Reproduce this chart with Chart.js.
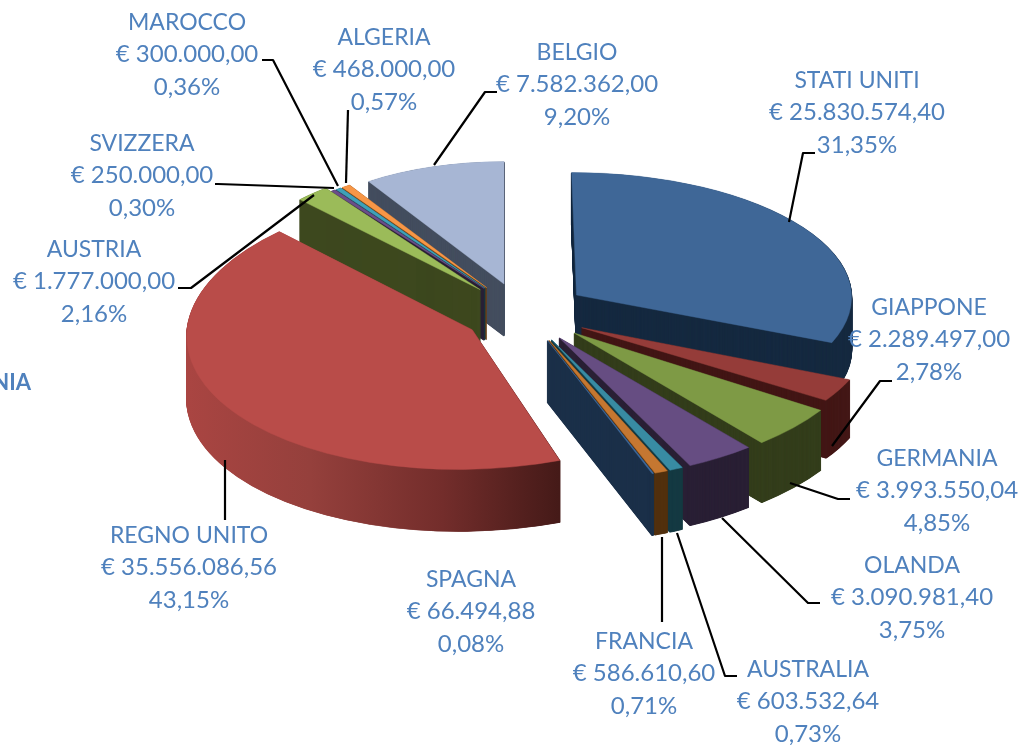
<!DOCTYPE html>
<html><head><meta charset="utf-8">
<style>html,body{margin:0;padding:0;background:#fff}#w{width:1021px;height:745px;position:relative}</style>
<script src="https://cdn.jsdelivr.net/npm/chart.js@4/dist/chart.umd.min.js"></script>
</head><body><div id="w"><canvas id="c" width="1021" height="745"></canvas></div>
<script>
const categories = ['STATI UNITI','GIAPPONE','GERMANIA','OLANDA','AUSTRALIA','FRANCIA','SPAGNA','REGNO UNITO','AUSTRIA','SVIZZERA','MAROCCO','ALGERIA','BELGIO'];
const amounts = [25830574.40,2289497.00,3993550.04,3090981.40,603532.64,586610.60,66494.88,35556086.56,1777000.00,250000.00,300000.00,468000.00,7582362.00];
const percents = ['31,35%','2,78%','4,85%','3,75%','0,73%','0,71%','0,08%','43,15%','2,16%','0,30%','0,36%','0,57%','9,20%'];
const topColors = ['#3F6797','#953C39','#7E9A45','#664D82','#388BA3','#C57731','#406A9E','#B94C49','#9BBB59','#6A4E89','#3FA0B8','#F79646','#A7B6D4'];
const sideColors = ['#162A40','#431716','#343E1C','#2A2035','#153A43','#52310F','#1B3049','#8A3532','#3F4A20','#2A2035','#153A43','#6B3F14','#444E5F'];
const clippedTitle = 'NIA';

const labelSpots = [[857,80],[929,307],[937,458],[912,565],[808,669],[644,641],[471,579],[189,535],[94,249],[142,143],[187,22],[384,37],[577,52]];
const leaders = [
 [[789,222],[803,153],[815,153]],
 [[832,446],[880,381],[892,381]],
 [[790,483],[838,499],[850,499]],
 [[722,518],[808,603],[820,603]],
 [[677,533],[725,676],[737,676]],
 [[662,537],[662,622]],
 [],
 [[225,460],[225,520]],
 [[314,195],[191,288],[178,288]],
 [[334,188],[218,184],[215,184]],
 [[338,186],[273,60],[262,60]],
 [[346,183],[348,110]],
 [[434,165],[485,92],[497,92]]
];
const sliceScaleX = [.965,1.02,1.03,1.04,1.04,1.04,1.04,1.0,.89,.88,.88,.88,.87];
const sliceScaleY = [.43,.47,.5,.5,.5,.5,.5,.49,.45,.43,.43,.43,.43];
const sliceDepth  = [52,58,60,60,62,62,62,62,52,52,52,52,52];
const sliceNudgeX = [-1,1,2,0,0,0,0,0,-3,-3,-3,-3,-3];
const sliceNudgeY = [-5,0,0,0,0,0,0,0,-5,-5,-5,-5,-5];
const sliceShear  = [.04,0,0,0,0,0,0,-.1,0,0,0,0,0];
const CX = 525, CY = 315;

function money(v){
  const [a,b] = v.toFixed(2).split('.');
  return '€ ' + a.replace(/\B(?=(\d{3})+$)/g,'.') + ',' + b;
}

const pie3d = {
  id:'pie3d',
  beforeDatasetsDraw(chart){
    const ctx = chart.ctx, meta = chart.getDatasetMeta(0);
    const order = meta.data.map((el,i)=>i).sort((a,b)=>{
      const m = e => Math.sin((e.startAngle+e.endAngle)/2);
      return m(meta.data[a]) - m(meta.data[b]);
    });
    order.forEach(i=>{
      const el = meta.data[i], sx = sliceScaleX[i], sy = sliceScaleY[i];
      const mid = (el.startAngle+el.endAngle)/2, off = el.options.offset/4;
      const place = dz => {
        ctx.translate(CX + sliceNudgeX[i] + Math.cos(mid)*off, CY + sliceNudgeY[i] + Math.sin(mid)*off*sliceScaleY[0] + dz);
        ctx.transform(1,0,sliceShear[i],1,0,0);
        ctx.scale(sx, sy);
        ctx.translate(-el.x, -el.y);
      };
      const face = (col,bw) => { const p = Object.create(el); p.options = Object.assign({}, el.options, {backgroundColor:col, borderColor:col, borderWidth:bw, offset:0}); return p; };
      let side = sideColors[i];
      if (categories[i] === 'REGNO UNITO') {
        const g = ctx.createLinearGradient(el.x - 285, 0, el.x + 100, 0);
        g.addColorStop(0,'#AA4542'); g.addColorStop(.35,'#95403C'); g.addColorStop(.7,'#732D2B'); g.addColorStop(1,'#451A18');
        side = g;
      }
      const sideFace = face(side,1.4);
      for (let z = sliceDepth[i]; z > 0; z -= .5) {
        ctx.save(); place(z); sideFace.draw(ctx); ctx.restore();
      }
      ctx.save(); place(0); face(topColors[i],.6).draw(ctx); ctx.restore();
    });
    return false;
  },
  afterDraw(chart){
    const ctx = chart.ctx;
    ctx.save();
    ctx.strokeStyle = '#000'; ctx.lineWidth = 2.2; ctx.lineJoin='round';
    leaders.forEach(pts=>{
      if(!pts.length) return;
      ctx.beginPath();
      pts.forEach((p,k)=> k ? ctx.lineTo(p[0],p[1]) : ctx.moveTo(p[0],p[1]));
      ctx.stroke();
    });
    ctx.fillStyle = '#4F81BD';
    ctx.textAlign='center'; ctx.textBaseline='middle';
    categories.forEach((n,i)=>{
      const [x,y] = labelSpots[i];
      ctx.font = '23px Lato, Carlito, sans-serif';
      ctx.fillText(n,x,y+1);
      ctx.font = '24px Lato, Carlito, sans-serif';
      ctx.fillText(money(amounts[i]),x,y+32.5);
      ctx.fillText(percents[i],x,y+65);
    });
    ctx.font = 'bold 22px Lato, Carlito, sans-serif';
    ctx.textAlign='right';
    ctx.fillText(clippedTitle,31,383);
    ctx.restore();
  }
};

new Chart(document.getElementById('c'),{
  type:'pie',
  data:{labels:categories,datasets:[{data:amounts,backgroundColor:topColors,borderWidth:0,offset:252}]},
  options:{
    responsive:false,animation:false,radius:285,
    layout:{padding:0},
    events:[],
    plugins:{legend:{display:false},tooltip:{enabled:false},title:{display:false}}
  },
  plugins:[pie3d]
});
</script></body></html>
